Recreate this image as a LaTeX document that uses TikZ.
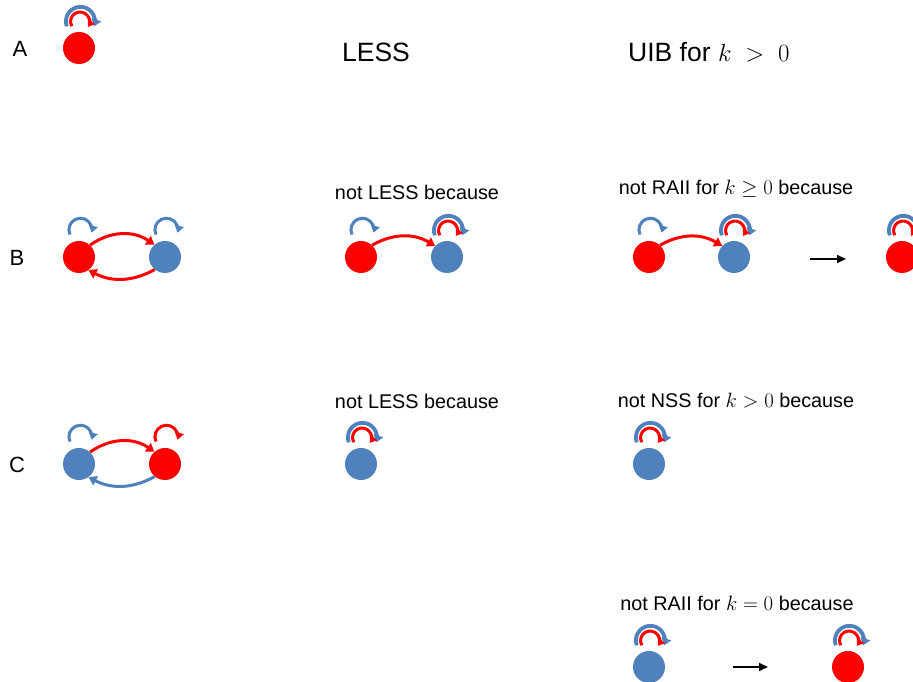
\documentclass[tikz,border=0pt]{standalone}
\usepackage{fontspec}
\setmainfont{Liberation Sans}
\usetikzlibrary{arrows.meta}

\definecolor{sred}{HTML}{FF0000}
\definecolor{sblue}{HTML}{4F81BD}

% single self-loop above a state
\newcommand{\selfloop}[2]{%
  \draw[#1, line width=3pt, -{Triangle[length=7pt,width=9pt]}]
    ([shift={(-9,22.4)}]#2.center) arc[start angle=205, end angle=-15, radius=11.5];}
% double self-loop: blue outer ring, red inner ring
\newcommand{\doubleloop}[1]{%
  \draw[sblue, line width=3.8pt, -{Triangle[length=7pt,width=10pt]}]
    ([shift={(-12.2,21.7)}]#1.center) arc[start angle=200, end angle=-20, radius=14.5];
  \draw[sred, line width=3pt, -{Triangle[length=6.5pt,width=8.5pt]}]
    ([shift={(-7.2,21.75)}]#1.center) arc[start angle=210, end angle=-35, radius=9.5];}

\begin{document}
\begin{tikzpicture}[x=1pt, y=1pt,
  state/.style={circle, minimum size=32pt, inner sep=0pt},
  rst/.style={state, fill=sred},
  bst/.style={state, fill=sblue},
  edge/.style={line width=3pt, -{Triangle[length=8pt,width=10pt]}},
  move/.style={line width=1.8pt, -{Triangle[length=9pt,width=8pt]}},
  rowlab/.style={font=\fontsize{22}{26}\selectfont},
  head/.style={font=\fontsize{26.5}{30}\selectfont},
  note/.style={font=\fontsize{19.8}{24}\selectfont}]
\useasboundingbox (0,0) rectangle (913,682);

% headings and row labels
\node[rowlab] (la) at (20,633) {A};
\node[rowlab] (lb) at (17,424) {B};
\node[rowlab] (lc) at (17,217) {C};
\node[head] (hless) at (376,630) {LESS};
\node[head, anchor=west, inner sep=0pt] (huib) at (628,630) {UIB for $k \;>\; 0$};

% row A
\node[rst] (a1) at (79,634) {};
\doubleloop{a1}

% row B, left
\node[rst] (b1) at (79,425) {};
\node[bst] (b2) at (165,425) {};
\selfloop{sblue}{b1}
\selfloop{sblue}{b2}
\draw[edge, sred] (b1.47) to[bend left=35] (b2.131);
\draw[edge, sred] (b2.231) to[bend left=28] (b1.306);

% row B, middle
\node[note] (nb1) at (417,490) {not LESS because};
\node[rst] (b3) at (361,425) {};
\node[bst] (b4) at (447,425) {};
\selfloop{sblue}{b3}
\doubleloop{b4}
\draw[edge, sred] (b3.47) to[bend left=30] (b4.137);

% row B, right
\node[note] (nb2) at (736,493) {not RAII for $k \geq 0$ because};
\node[rst] (b5) at (649,425) {};
\node[bst] (b6) at (734,425) {};
\selfloop{sblue}{b5}
\doubleloop{b6}
\draw[edge, sred] (b5.47) to[bend left=30] (b6.137);
\coordinate (m1) at (810,423);
\coordinate (m2) at (846,423);
\draw[move] (m1) -- (m2);
\node[rst] (b7) at (902,425) {};
\doubleloop{b7}

% row C, left
\node[bst] (c1) at (79,218) {};
\node[rst] (c2) at (165,218) {};
\selfloop{sblue}{c1}
\selfloop{sred}{c2}
\draw[edge, sred] (c1.47) to[bend left=35] (c2.131);
\draw[edge, sblue] (c2.231) to[bend left=28] (c1.306);

% row C, middle and right
\node[note] (nc1) at (417,281) {not LESS because};
\node[bst] (c3) at (361,218) {};
\doubleloop{c3}
\node[note] (nc2) at (736,281) {not NSS for $k > 0$ because};
\node[bst] (c4) at (649,218) {};
\doubleloop{c4}

% bottom row
\node[note] (nd1) at (737,79) {not RAII for $k = 0$ because};
\node[bst] (d1) at (649,15) {};
\doubleloop{d1}
\coordinate (m3) at (733,15);
\coordinate (m4) at (768,15);
\draw[move] (m3) -- (m4);
\node[rst] (d2) at (848,15) {};
\doubleloop{d2}
\end{tikzpicture}
\end{document}
